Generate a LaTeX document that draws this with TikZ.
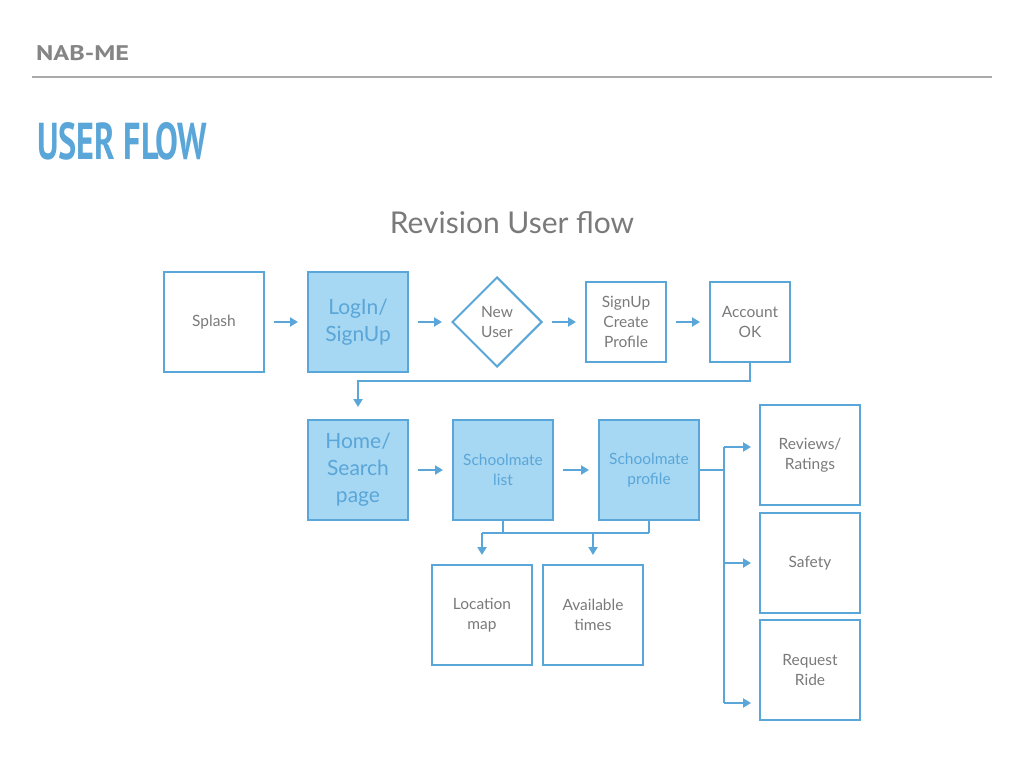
\documentclass[tikz,border=0pt]{standalone}
\usepackage{fontspec}
\usepackage{graphicx}
\setmainfont{Lato}
\newfontfamily\headfont{PT Sans}
\usetikzlibrary{shapes.geometric,arrows.meta,calc}
\definecolor{lineblue}{HTML}{5AA6D8}
\definecolor{fillblue}{HTML}{A6D7F3}
\definecolor{txtgray}{HTML}{7A7A7A}
\definecolor{headgray}{HTML}{858585}
\definecolor{rulegray}{HTML}{AAAAAA}
\tikzset{
  box/.style={draw=lineblue, line width=2pt, minimum width=100pt, minimum height=100pt,
    inner sep=0pt, align=center, text=txtgray, font=\fontsize{15.5}{20}\selectfont},
  smallbox/.style={box, minimum width=80pt, minimum height=80pt},
  bigtext/.style={fill=fillblue, text=lineblue, font=\fontsize{21}{27}\selectfont},
  midtext/.style={fill=fillblue, text=lineblue, font=\fontsize{15.5}{20}\selectfont},
  decision/.style={diamond, aspect=1, draw=lineblue, line width=2pt, minimum width=90pt,
    minimum height=90pt, inner sep=0pt, align=center, text=txtgray, font=\fontsize{15.5}{20}\selectfont},
  conn/.style={draw=lineblue, line width=2pt},
  arr/.style={conn, -{Triangle[length=8pt,width=9pt]}, shorten >=9pt},
  arrs/.style={arr, shorten <=9pt},
}
\begin{document}
\begin{tikzpicture}[x=1pt,y=-1pt]
\useasboundingbox (0,0) rectangle (1024,768);
\fill[white] (0,0) rectangle (1024,768);

% header
\node[anchor=south west, inner sep=0pt, text=headgray] (nab) at (36,61)
  {\resizebox{93pt}{15pt}{\headfont\bfseries NAB-ME}};
\draw[rulegray, line width=2pt] (32,77) -- (992,77);
\node[anchor=south west, inner sep=0pt, text=lineblue] (title) at (37,160)
  {\resizebox{170pt}{37pt}{\headfont\bfseries USER FLOW}};
\node[text=txtgray, font=\fontsize{30}{36}\selectfont] (sub) at (512,223) {Revision User flow};

% row 1
\node[box] (splash) at (214,322) {Splash};
\node[box, bigtext] (login) at (358,322) {LogIn/\\SignUp};
\node[decision] (newuser) at (497,322) {New\\User};
\node[smallbox] (signup) at (626,322) {SignUp\\Create\\Profile};
\node[smallbox] (account) at (750,322) {Account\\OK};

% row 2
\node[box, bigtext] (home) at (358,470) {Home/\\Search\\page};
\node[box, midtext] (list) at (503,470) {Schoolmate\\list};
\node[box, midtext] (profile) at (649,470) {Schoolmate\\profile};

% row 3
\node[box] (loc) at (482,615) {Location\\map};
\node[box] (avail) at (593,615) {Available\\times};

% right column
\node[box] (reviews) at (810,455) {Reviews/\\Ratings};
\node[box] (safety) at (810,563) {Safety};
\node[box] (ride) at (810,670) {Request\\Ride};

% connectors row 1
\draw[arrs] (splash) -- (login);
\draw[arrs] (login) -- (newuser);
\draw[arrs] (newuser) -- (signup);
\draw[arrs] (signup) -- (account);
\draw[arr, shorten >=12pt] (account.south) -- ++(0,18) -| (home.north);

% connectors row 2
\draw[arrs] (home) -- (list);
\draw[arrs] (list) -- (profile);

% down to row 3
\coordinate (bus) at ($(list.south)+(0,12)$);
\draw[conn] (list.south) -- (bus);
\draw[conn] (profile.south) -- (bus -| profile.south);
\draw[conn] (bus -| loc.north) -- (bus -| profile.south);
\draw[arr] (bus -| loc.north) -- (loc.north);
\draw[arr] (bus -| avail.north) -- (avail.north);

% right side
\coordinate (rbus) at ($(profile.east)+(25,0)$);
\coordinate (ra) at (724,447);
\coordinate (rb) at (724,563);
\coordinate (rc) at (724,703);
\draw[conn] (profile.east) -- (rbus);
\draw[conn] (ra) -- (rc);
\draw[arr, shorten >=8pt] (ra) -- (ra -| reviews.west);
\draw[arr, shorten >=8pt] (rb) -- (rb -| safety.west);
\draw[arr, shorten >=8pt] (rc) -- (rc -| ride.west);
\end{tikzpicture}
\end{document}
